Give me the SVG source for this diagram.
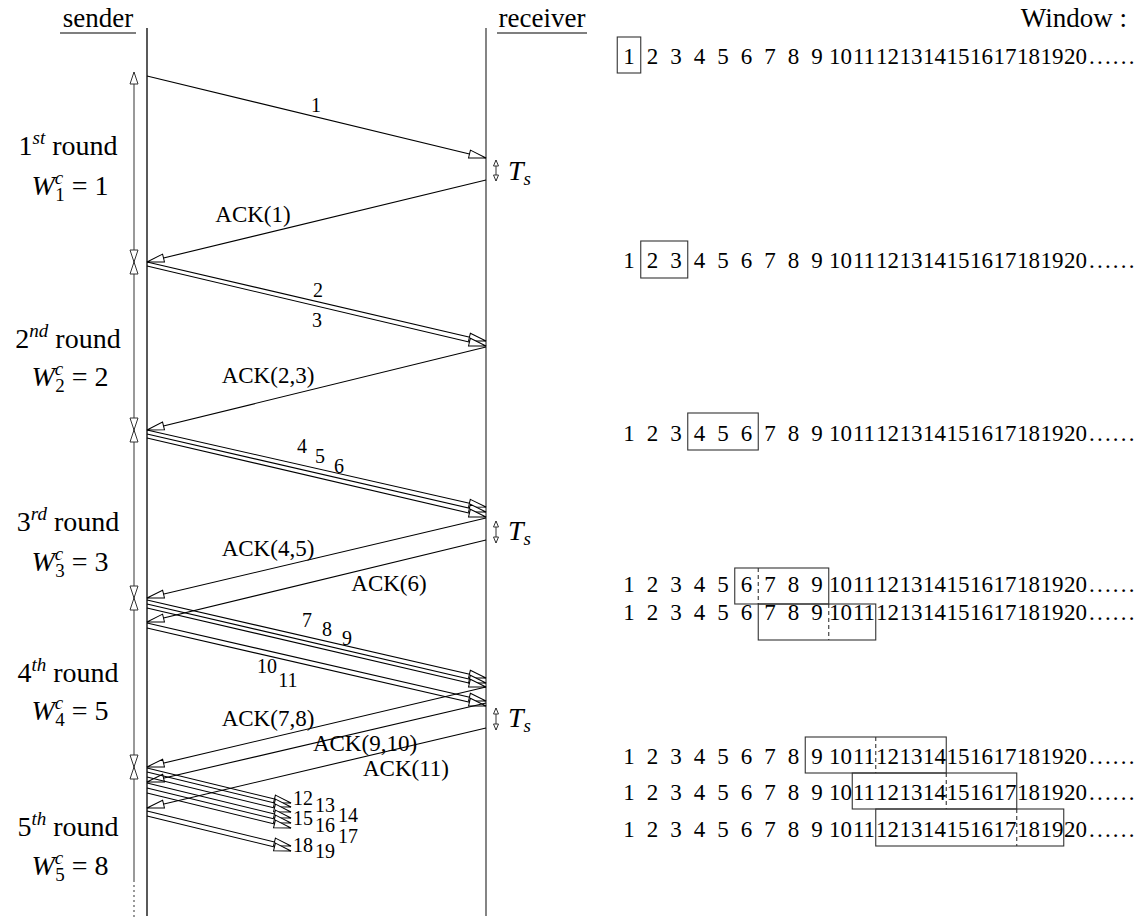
<svg xmlns="http://www.w3.org/2000/svg" width="1143" height="920" viewBox="0 0 1143 920" font-family="'Liberation Serif','DejaVu Serif','Noto Serif',Times,serif">
<style>
text{font-family:'Liberation Serif','DejaVu Serif','Noto Serif',Times,serif;fill:#000}
.hd{font-size:27px}
.lbl{font-size:28px}
.sup{font-size:19px;font-style:italic}
.sub{font-size:19px}
.it{font-style:italic}
.pl{font-size:20px}
.ack{font-size:23px}
.w{font-size:23px}
.pk{stroke:#000;stroke-width:1.1;fill:none;marker-end:url(#ah)}
.rl{stroke:#555;stroke-width:1.2;fill:none;marker-start:url(#rh);marker-end:url(#rh)}
.ts{stroke:#333;stroke-width:1;fill:none;marker-start:url(#th);marker-end:url(#th)}
.box{fill:none;stroke:#333;stroke-width:1.1}
.dv{stroke:#333;stroke-width:1.1;stroke-dasharray:4,3}
</style>
<defs>
<marker id="ah" markerUnits="userSpaceOnUse" markerWidth="19" markerHeight="11" refX="17.5" refY="5" orient="auto" overflow="visible">
<path d="M0.5,1 L17.5,5 L0.5,9 Z" fill="#fff" stroke="#000" stroke-width="1"/>
</marker>
<marker id="rh" markerUnits="userSpaceOnUse" markerWidth="14" markerHeight="10" refX="12.5" refY="4.5" orient="auto-start-reverse" overflow="visible">
<path d="M0.5,0.5 L12.5,4.5 L0.5,8.5 Z" fill="#fff" stroke="#333" stroke-width="1"/>
</marker>
<marker id="th" markerUnits="userSpaceOnUse" markerWidth="8" markerHeight="7" refX="6.5" refY="3" orient="auto-start-reverse" overflow="visible">
<path d="M0.5,0.5 L6.5,3 L0.5,5.5 Z" fill="#fff" stroke="#333" stroke-width="1"/>
</marker>
</defs>
<rect width="1143" height="920" fill="#fff"/>

<g id="sender">
<text class="hd" x="98" y="27" text-anchor="middle">sender</text>
<line x1="60" y1="33" x2="136" y2="33" stroke="#000" stroke-width="1.2"/>
<line x1="147" y1="28" x2="147" y2="916" stroke="#000" stroke-width="1.3"/>
</g>
<g id="receiver">
<text class="hd" x="542" y="27" text-anchor="middle">receiver</text>
<line x1="497" y1="33" x2="587" y2="33" stroke="#000" stroke-width="1.2"/>
<line x1="486" y1="28" x2="486" y2="916" stroke="#666" stroke-width="1.6"/>
</g>

<g id="round-labels">
<text class="lbl" x="68" y="155" text-anchor="middle">1<tspan class="sup" dy="-11">st</tspan><tspan dy="11"> round</tspan></text>
<text class="lbl" x="70" y="195" text-anchor="middle"><tspan class="it">W</tspan><tspan class="sup" dy="-11">c</tspan><tspan class="sub" dx="-8" dy="17">1</tspan><tspan dy="-6"> = 1</tspan></text>
<text class="lbl" x="68" y="348" text-anchor="middle">2<tspan class="sup" dy="-11">nd</tspan><tspan dy="11"> round</tspan></text>
<text class="lbl" x="70" y="386" text-anchor="middle"><tspan class="it">W</tspan><tspan class="sup" dy="-11">c</tspan><tspan class="sub" dx="-8" dy="17">2</tspan><tspan dy="-6"> = 2</tspan></text>
<text class="lbl" x="68" y="531" text-anchor="middle">3<tspan class="sup" dy="-11">rd</tspan><tspan dy="11"> round</tspan></text>
<text class="lbl" x="70" y="571" text-anchor="middle"><tspan class="it">W</tspan><tspan class="sup" dy="-11">c</tspan><tspan class="sub" dx="-8" dy="17">3</tspan><tspan dy="-6"> = 3</tspan></text>
<text class="lbl" x="68" y="682" text-anchor="middle">4<tspan class="sup" dy="-11">th</tspan><tspan dy="11"> round</tspan></text>
<text class="lbl" x="70" y="720" text-anchor="middle"><tspan class="it">W</tspan><tspan class="sup" dy="-11">c</tspan><tspan class="sub" dx="-8" dy="17">4</tspan><tspan dy="-6"> = 5</tspan></text>
<text class="lbl" x="68" y="836" text-anchor="middle">5<tspan class="sup" dy="-11">th</tspan><tspan dy="11"> round</tspan></text>
<text class="lbl" x="70" y="875" text-anchor="middle"><tspan class="it">W</tspan><tspan class="sup" dy="-11">c</tspan><tspan class="sub" dx="-8" dy="17">5</tspan><tspan dy="-6"> = 8</tspan></text>
</g>

<g id="rounds">
<line class="rl" x1="134" y1="72" x2="134" y2="262"/>
<line class="rl" x1="134" y1="262" x2="134" y2="430"/>
<line class="rl" x1="134" y1="430" x2="134" y2="598"/>
<line class="rl" x1="134" y1="598" x2="134" y2="767"/>
<line x1="134" y1="767" x2="134" y2="880" stroke="#555" stroke-width="1.2" marker-start="url(#rh)"/>
<line x1="134" y1="880" x2="134" y2="918" stroke="#555" stroke-width="1.2" stroke-dasharray="2,3"/>
</g>

<g id="connectors">
<line class="pk" x1="147" y1="76" x2="486" y2="158"/>
<line class="pk" x1="486" y1="180" x2="147" y2="262"/>
<line class="pk" x1="147" y1="262" x2="486" y2="341"/>
<line class="pk" x1="147" y1="266" x2="486" y2="346"/>
<line class="pk" x1="486" y1="347" x2="147" y2="430"/>
<line class="pk" x1="147" y1="430" x2="486" y2="507"/>
<line class="pk" x1="147" y1="434" x2="486" y2="512"/>
<line class="pk" x1="147" y1="438" x2="486" y2="517"/>
<line class="pk" x1="486" y1="518" x2="147" y2="598"/>
<line class="pk" x1="486" y1="540" x2="147" y2="622"/>
<line class="pk" x1="147" y1="600" x2="486" y2="678"/>
<line class="pk" x1="147" y1="604" x2="486" y2="683"/>
<line class="pk" x1="147" y1="608" x2="486" y2="687"/>
<line class="pk" x1="147" y1="623" x2="486" y2="701"/>
<line class="pk" x1="147" y1="628" x2="486" y2="706"/>
<line class="pk" x1="486" y1="687" x2="147" y2="767"/>
<line class="pk" x1="486" y1="703" x2="147" y2="782"/>
<line class="pk" x1="486" y1="728" x2="147" y2="808"/>
<line class="pk" x1="147" y1="768" x2="291" y2="803"/>
<line class="pk" x1="147" y1="772" x2="291" y2="807"/>
<line class="pk" x1="147" y1="777" x2="291" y2="812"/>
<line class="pk" x1="147" y1="783" x2="291" y2="818"/>
<line class="pk" x1="147" y1="788" x2="291" y2="823"/>
<line class="pk" x1="147" y1="793" x2="291" y2="828"/>
<line class="pk" x1="147" y1="811" x2="291" y2="846"/>
<line class="pk" x1="147" y1="816" x2="291" y2="851"/>
<line class="ts" x1="496" y1="160" x2="496" y2="181"/>
<line class="ts" x1="496" y1="521" x2="496" y2="543"/>
<line class="ts" x1="496" y1="708" x2="496" y2="730"/>
</g>

<g id="ts-labels">
<text class="lbl" x="508" y="180"><tspan class="it">T</tspan><tspan class="sup" dy="5">s</tspan></text>
<text class="lbl" x="508" y="540"><tspan class="it">T</tspan><tspan class="sup" dy="5">s</tspan></text>
<text class="lbl" x="508" y="727"><tspan class="it">T</tspan><tspan class="sup" dy="5">s</tspan></text>
</g>

<g id="packet-labels">
<text class="pl" x="316" y="112" text-anchor="middle">1</text>
<text class="pl" x="318" y="297" text-anchor="middle">2</text>
<text class="pl" x="317" y="327" text-anchor="middle">3</text>
<text class="pl" x="302" y="453" text-anchor="middle">4</text>
<text class="pl" x="320" y="463" text-anchor="middle">5</text>
<text class="pl" x="339" y="473" text-anchor="middle">6</text>
<text class="pl" x="307" y="627" text-anchor="middle">7</text>
<text class="pl" x="327" y="636" text-anchor="middle">8</text>
<text class="pl" x="347" y="645" text-anchor="middle">9</text>
<text class="pl" x="267" y="673" text-anchor="middle">10</text>
<text class="pl" x="288" y="687" text-anchor="middle">11</text>
<text class="pl" x="293" y="805">12</text>
<text class="pl" x="315" y="812">13</text>
<text class="pl" x="338" y="822">14</text>
<text class="pl" x="293" y="825">15</text>
<text class="pl" x="315" y="832">16</text>
<text class="pl" x="338" y="843">17</text>
<text class="pl" x="293" y="852">18</text>
<text class="pl" x="315" y="858">19</text>
</g>

<g id="ack-labels">
<text class="ack" x="253" y="222" text-anchor="middle">ACK(1)</text>
<text class="ack" x="268" y="383" text-anchor="middle">ACK(2,3)</text>
<text class="ack" x="268" y="556" text-anchor="middle">ACK(4,5)</text>
<text class="ack" x="389" y="591" text-anchor="middle">ACK(6)</text>
<text class="ack" x="268" y="726" text-anchor="middle">ACK(7,8)</text>
<text class="ack" x="365" y="751" text-anchor="middle">ACK(9,10)</text>
<text class="ack" x="406" y="776" text-anchor="middle">ACK(11)</text>
</g>

<g id="window">
<text class="hd" x="1127" y="27" text-anchor="end">Window :</text>
<g id="row1">
<rect class="box" x="617.25" y="37" width="23.5" height="36"/>
<text class="w" y="64" text-anchor="middle"><tspan x="629">1</tspan><tspan x="652.5">2</tspan><tspan x="676">3</tspan><tspan x="699.5">4</tspan><tspan x="723">5</tspan><tspan x="746.5">6</tspan><tspan x="770">7</tspan><tspan x="793.5">8</tspan><tspan x="817">9</tspan><tspan x="840.5">10</tspan><tspan x="864">11</tspan><tspan x="887.5">12</tspan><tspan x="911">13</tspan><tspan x="934.5">14</tspan><tspan x="958">15</tspan><tspan x="981.5">16</tspan><tspan x="1005">17</tspan><tspan x="1028.5">18</tspan><tspan x="1052">19</tspan><tspan x="1075.5">20</tspan></text>
<text class="w" x="1089" y="64" letter-spacing="2.2">......</text>
</g>
<g id="row2">
<rect class="box" x="640.75" y="241" width="47" height="37"/>
<text class="w" y="268" text-anchor="middle"><tspan x="629">1</tspan><tspan x="652.5">2</tspan><tspan x="676">3</tspan><tspan x="699.5">4</tspan><tspan x="723">5</tspan><tspan x="746.5">6</tspan><tspan x="770">7</tspan><tspan x="793.5">8</tspan><tspan x="817">9</tspan><tspan x="840.5">10</tspan><tspan x="864">11</tspan><tspan x="887.5">12</tspan><tspan x="911">13</tspan><tspan x="934.5">14</tspan><tspan x="958">15</tspan><tspan x="981.5">16</tspan><tspan x="1005">17</tspan><tspan x="1028.5">18</tspan><tspan x="1052">19</tspan><tspan x="1075.5">20</tspan></text>
<text class="w" x="1089" y="268" letter-spacing="2.2">......</text>
</g>
<g id="row3">
<rect class="box" x="687.75" y="413" width="70.5" height="37"/>
<text class="w" y="441" text-anchor="middle"><tspan x="629">1</tspan><tspan x="652.5">2</tspan><tspan x="676">3</tspan><tspan x="699.5">4</tspan><tspan x="723">5</tspan><tspan x="746.5">6</tspan><tspan x="770">7</tspan><tspan x="793.5">8</tspan><tspan x="817">9</tspan><tspan x="840.5">10</tspan><tspan x="864">11</tspan><tspan x="887.5">12</tspan><tspan x="911">13</tspan><tspan x="934.5">14</tspan><tspan x="958">15</tspan><tspan x="981.5">16</tspan><tspan x="1005">17</tspan><tspan x="1028.5">18</tspan><tspan x="1052">19</tspan><tspan x="1075.5">20</tspan></text>
<text class="w" x="1089" y="441" letter-spacing="2.2">......</text>
</g>
<g id="row4a">
<rect class="box" x="734.75" y="568" width="94" height="36"/>
<line class="dv" x1="758.25" y1="568" x2="758.25" y2="604"/>
<text class="w" y="592" text-anchor="middle"><tspan x="629">1</tspan><tspan x="652.5">2</tspan><tspan x="676">3</tspan><tspan x="699.5">4</tspan><tspan x="723">5</tspan><tspan x="746.5">6</tspan><tspan x="770">7</tspan><tspan x="793.5">8</tspan><tspan x="817">9</tspan><tspan x="840.5">10</tspan><tspan x="864">11</tspan><tspan x="887.5">12</tspan><tspan x="911">13</tspan><tspan x="934.5">14</tspan><tspan x="958">15</tspan><tspan x="981.5">16</tspan><tspan x="1005">17</tspan><tspan x="1028.5">18</tspan><tspan x="1052">19</tspan><tspan x="1075.5">20</tspan></text>
<text class="w" x="1089" y="592" letter-spacing="2.2">......</text>
</g>
<g id="row4b">
<rect class="box" x="758.25" y="604" width="117.5" height="36"/>
<line class="dv" x1="828.75" y1="604" x2="828.75" y2="640"/>
<text class="w" y="620" text-anchor="middle"><tspan x="629">1</tspan><tspan x="652.5">2</tspan><tspan x="676">3</tspan><tspan x="699.5">4</tspan><tspan x="723">5</tspan><tspan x="746.5">6</tspan><tspan x="770">7</tspan><tspan x="793.5">8</tspan><tspan x="817">9</tspan><tspan x="840.5">10</tspan><tspan x="864">11</tspan><tspan x="887.5">12</tspan><tspan x="911">13</tspan><tspan x="934.5">14</tspan><tspan x="958">15</tspan><tspan x="981.5">16</tspan><tspan x="1005">17</tspan><tspan x="1028.5">18</tspan><tspan x="1052">19</tspan><tspan x="1075.5">20</tspan></text>
<text class="w" x="1089" y="620" letter-spacing="2.2">......</text>
</g>
<g id="row5a">
<rect class="box" x="805.25" y="737" width="141" height="36"/>
<line class="dv" x1="875.75" y1="737" x2="875.75" y2="773"/>
<text class="w" y="764" text-anchor="middle"><tspan x="629">1</tspan><tspan x="652.5">2</tspan><tspan x="676">3</tspan><tspan x="699.5">4</tspan><tspan x="723">5</tspan><tspan x="746.5">6</tspan><tspan x="770">7</tspan><tspan x="793.5">8</tspan><tspan x="817">9</tspan><tspan x="840.5">10</tspan><tspan x="864">11</tspan><tspan x="887.5">12</tspan><tspan x="911">13</tspan><tspan x="934.5">14</tspan><tspan x="958">15</tspan><tspan x="981.5">16</tspan><tspan x="1005">17</tspan><tspan x="1028.5">18</tspan><tspan x="1052">19</tspan><tspan x="1075.5">20</tspan></text>
<text class="w" x="1089" y="764" letter-spacing="2.2">......</text>
</g>
<g id="row5b">
<rect class="box" x="852.25" y="773" width="164.5" height="36"/>
<line class="dv" x1="946.25" y1="773" x2="946.25" y2="809"/>
<text class="w" y="800" text-anchor="middle"><tspan x="629">1</tspan><tspan x="652.5">2</tspan><tspan x="676">3</tspan><tspan x="699.5">4</tspan><tspan x="723">5</tspan><tspan x="746.5">6</tspan><tspan x="770">7</tspan><tspan x="793.5">8</tspan><tspan x="817">9</tspan><tspan x="840.5">10</tspan><tspan x="864">11</tspan><tspan x="887.5">12</tspan><tspan x="911">13</tspan><tspan x="934.5">14</tspan><tspan x="958">15</tspan><tspan x="981.5">16</tspan><tspan x="1005">17</tspan><tspan x="1028.5">18</tspan><tspan x="1052">19</tspan><tspan x="1075.5">20</tspan></text>
<text class="w" x="1089" y="800" letter-spacing="2.2">......</text>
</g>
<g id="row5c">
<rect class="box" x="875.75" y="809" width="188" height="37"/>
<line class="dv" x1="1016.75" y1="809" x2="1016.75" y2="846"/>
<text class="w" y="837" text-anchor="middle"><tspan x="629">1</tspan><tspan x="652.5">2</tspan><tspan x="676">3</tspan><tspan x="699.5">4</tspan><tspan x="723">5</tspan><tspan x="746.5">6</tspan><tspan x="770">7</tspan><tspan x="793.5">8</tspan><tspan x="817">9</tspan><tspan x="840.5">10</tspan><tspan x="864">11</tspan><tspan x="887.5">12</tspan><tspan x="911">13</tspan><tspan x="934.5">14</tspan><tspan x="958">15</tspan><tspan x="981.5">16</tspan><tspan x="1005">17</tspan><tspan x="1028.5">18</tspan><tspan x="1052">19</tspan><tspan x="1075.5">20</tspan></text>
<text class="w" x="1089" y="837" letter-spacing="2.2">......</text>
</g>
</g>
</svg>
